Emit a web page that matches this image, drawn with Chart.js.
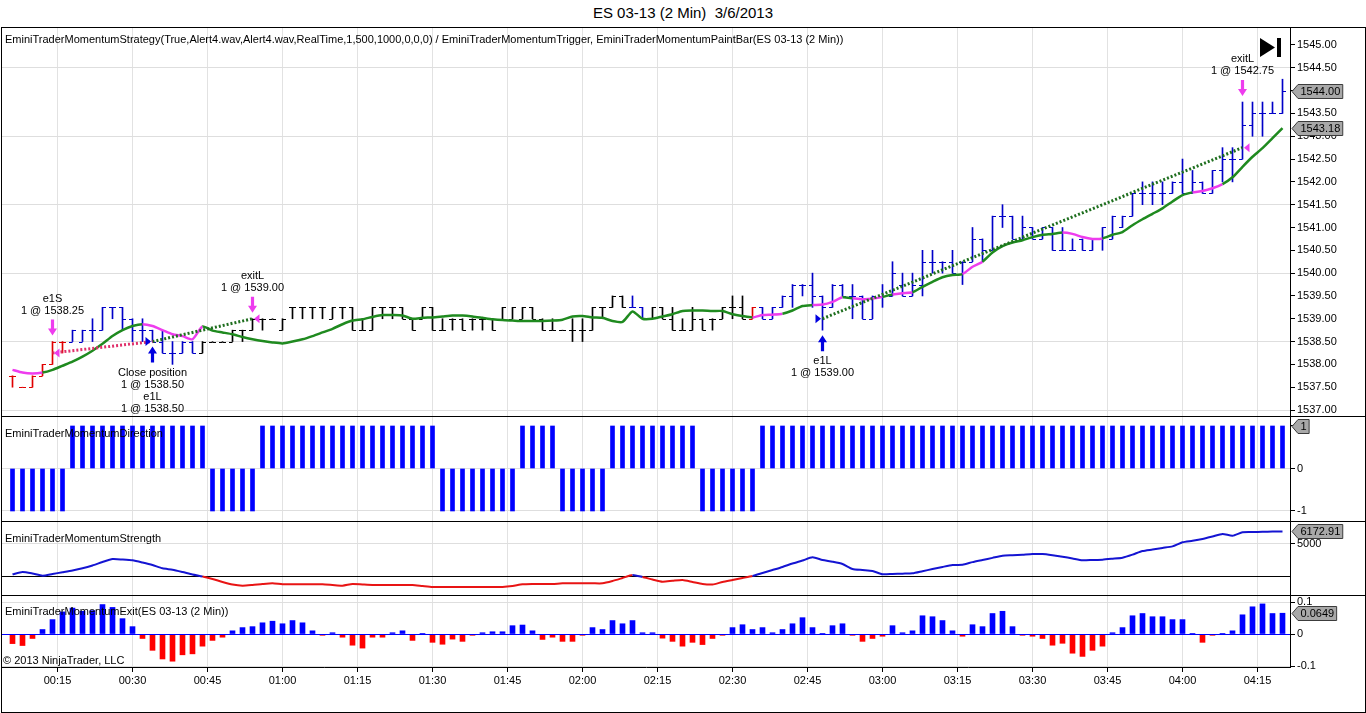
<!DOCTYPE html>
<html>
<head>
<meta charset="utf-8">
<script src="https://cdn.jsdelivr.net/npm/chart.js@4.4.1/dist/chart.umd.min.js"></script>
<style>
  body { margin: 0; background: #fff; font-family: "Liberation Sans", Arial, sans-serif; }
  #wrap { position: relative; width: 1366px; height: 713px; overflow: hidden; }
  canvas { position: absolute; left: 2px; }
  .t { position: absolute; font-size: 11px; line-height: 13px; white-space: nowrap; color: #000; }
  .ln { position: absolute; background: #000; }
</style>
</head>
<body>
<div id="wrap">
  <canvas id="cPrice" width="1363" height="389" style="top:27px"></canvas>
  <canvas id="cDir" width="1363" height="106" style="top:416px"></canvas>
  <canvas id="cStr" width="1363" height="74" style="top:522px"></canvas>
  <canvas id="cExit" width="1363" height="116" style="top:596px"></canvas>

  <div class="t" style="left:0;width:1366px;top:4px;text-align:center;font-size:15px;line-height:18px">ES 03-13 (2 Min)&nbsp; 3/6/2013</div>
  <div class="t" style="left:5px;top:33px">EminiTraderMomentumStrategy(True,Alert4.wav,Alert4.wav,RealTime,1,500,1000,0,0,0) / EminiTraderMomentumTrigger, EminiTraderMomentumPaintBar(ES 03-13 (2 Min))</div>
  <div class="t" style="left:5px;top:427px">EminiTraderMomentumDirection</div>
  <div class="t" style="left:5px;top:532px">EminiTraderMomentumStrength</div>
  <div class="t" style="left:5px;top:605px">EminiTraderMomentumExit(ES 03-13 (2 Min))</div>
  <div class="t" style="left:3px;top:654px">© 2013 NinjaTrader, LLC</div>

  <!-- frame and panel separators -->
  <div class="ln" style="left:1px;top:27px;width:1365px;height:1px"></div>
  <div class="ln" style="left:1px;top:27px;width:1px;height:686px"></div>
  <div class="ln" style="left:1365px;top:27px;width:1px;height:686px"></div>
  <div class="ln" style="left:1px;top:712px;width:1365px;height:1px"></div>
  <div class="ln" style="left:1px;top:416px;width:1365px;height:1px"></div>
  <div class="ln" style="left:1px;top:521px;width:1365px;height:1px"></div>
  <div class="ln" style="left:1px;top:595px;width:1365px;height:1px"></div>
</div>

<script>
// ---- data (2 min bars, 00:06 .. 04:20) ----
const firstBarMinute = 6;
const barMinutes = 2;
const timeLabels = ['00:15','00:30','00:45','01:00','01:15','01:30','01:45','02:00','02:15',
                    '02:30','02:45','03:00','03:15','03:30','03:45','04:00','04:15'];
const priceTicks = [1537, 1537.5, 1538, 1538.5, 1539, 1539.5, 1540, 1540.5, 1541,
                    1541.5, 1542, 1542.5, 1543, 1543.5, 1544, 1544.5, 1545];
const dirTicks = [-1, 0, 1];
const strengthTicks = [5000];
const exitTicks = [-0.1, 0, 0.1];
const strengthLevel = 2000;

const high = [
  1537.75,1537.50,1537.75,1538.00,1538.50,1538.50,1538.75,1538.75,1539.00,1539.25,
  1539.25,1539.25,1539.00,1539.00,1538.75,1538.75,1538.50,1538.50,1538.50,1538.50,
  1538.50,1538.50,1538.75,1538.75,1539.00,1539.00,1539.00,1539.00,1539.25,1539.25,
  1539.25,1539.25,1539.25,1539.25,1539.25,1539.00,1539.25,1539.25,1539.25,1539.25,
  1539.00,1539.25,1539.25,1539.00,1539.00,1539.00,1539.00,1539.00,1539.00,1539.25,
  1539.25,1539.25,1539.25,1539.00,1539.00,1538.75,1539.00,1539.00,1539.25,1539.25,
  1539.50,1539.50,1539.50,1539.25,1539.25,1539.25,1539.25,1539.00,1539.25,1539.00,
  1539.00,1539.25,1539.50,1539.50,1539.25,1539.25,1539.25,1539.50,1539.75,1539.75,
  1540.00,1539.50,1539.75,1539.75,1539.75,1539.50,1539.50,1539.75,1540.25,1540.00,
  1540.00,1540.50,1540.50,1540.25,1540.50,1540.25,1541.00,1540.75,1541.25,1541.50,
  1541.25,1541.25,1541.00,1541.00,1541.00,1541.00,1540.75,1540.75,1540.75,1541.00,
  1541.25,1541.25,1541.75,1542.00,1542.00,1542.00,1542.00,1542.50,1542.25,1542.00,
  1542.25,1542.75,1542.75,1543.75,1543.75,1543.75,1543.75,1544.25
];
const low = [
  1537.50,1537.50,1537.50,1537.75,1538.00,1538.25,1538.50,1538.50,1538.50,1538.75,
  1539.00,1538.75,1538.50,1538.50,1538.50,1538.25,1538.00,1538.25,1538.25,1538.25,
  1538.50,1538.50,1538.50,1538.50,1538.75,1538.75,1539.00,1538.75,1539.00,1539.00,
  1539.00,1539.00,1539.00,1539.00,1538.75,1538.75,1538.75,1539.00,1539.00,1539.00,
  1538.75,1539.00,1538.75,1538.75,1538.75,1538.75,1538.75,1538.75,1538.75,1539.00,
  1539.00,1539.00,1539.00,1538.75,1538.75,1538.75,1538.50,1538.50,1538.75,1539.00,
  1539.25,1539.25,1539.25,1539.00,1539.00,1539.00,1538.75,1538.75,1538.75,1538.75,
  1538.75,1539.00,1539.00,1539.00,1539.00,1539.00,1539.00,1539.25,1539.25,1539.50,
  1539.25,1538.75,1539.25,1539.50,1539.00,1539.00,1539.00,1539.25,1539.50,1539.50,
  1539.50,1539.50,1540.00,1540.00,1540.00,1539.75,1540.25,1540.25,1540.50,1541.00,
  1540.75,1540.75,1540.75,1540.75,1540.50,1540.50,1540.50,1540.50,1540.50,1540.50,
  1540.75,1541.00,1541.25,1541.50,1541.50,1541.50,1541.75,1541.75,1541.75,1541.75,
  1541.75,1542.00,1542.00,1542.50,1543.00,1543.00,1543.50,1543.50
];
const open = [
  1537.75,1537.50,1537.50,1537.75,1538.00,1538.50,1538.50,1538.50,1538.75,1538.75,
  1539.25,1539.25,1539.00,1538.75,1538.75,1538.50,1538.25,1538.25,1538.50,1538.25,
  1538.50,1538.50,1538.50,1538.75,1538.75,1539.00,1539.00,1538.75,1539.25,1539.25,
  1539.25,1539.25,1539.00,1539.25,1539.25,1538.75,1538.75,1539.25,1539.25,1539.25,
  1539.00,1539.00,1539.25,1538.75,1539.00,1539.00,1539.00,1539.00,1539.00,1539.00,
  1539.00,1539.00,1539.25,1539.00,1538.75,1538.75,1538.75,1538.75,1538.75,1539.25,
  1539.25,1539.50,1539.25,1539.25,1539.00,1539.25,1539.00,1538.75,1538.75,1539.00,
  1539.00,1539.00,1539.25,1539.25,1539.00,1539.25,1539.00,1539.25,1539.50,1539.75,
  1539.75,1539.50,1539.25,1539.75,1539.50,1539.50,1539.00,1539.50,1539.50,1539.75,
  1539.50,1539.75,1540.25,1540.25,1540.25,1540.25,1540.25,1540.75,1540.50,1541.25,
  1541.25,1540.75,1541.00,1540.75,1541.00,1540.50,1540.50,1540.75,1540.50,1540.75,
  1540.75,1541.00,1541.25,1541.75,1541.75,1541.75,1541.75,1542.00,1541.75,1542.00,
  1541.75,1542.25,1542.50,1542.50,1543.25,1543.50,1543.50,1543.50
];
const close = [
  1537.75,1537.50,1537.75,1538.00,1538.50,1538.50,1538.75,1538.75,1538.75,1539.25,
  1539.25,1539.00,1538.75,1538.75,1538.50,1538.25,1538.25,1538.50,1538.25,1538.50,
  1538.50,1538.50,1538.75,1538.75,1539.00,1539.00,1539.00,1539.00,1539.25,1539.25,
  1539.25,1539.25,1539.25,1539.25,1538.75,1538.75,1539.25,1539.25,1539.25,1539.00,
  1538.75,1539.25,1538.75,1538.75,1539.00,1538.75,1539.00,1539.00,1538.75,1539.25,
  1539.25,1539.25,1539.00,1538.75,1538.75,1538.75,1538.75,1538.75,1539.25,1539.25,
  1539.50,1539.25,1539.25,1539.00,1539.25,1539.00,1538.75,1538.75,1539.00,1538.75,
  1539.00,1539.25,1539.25,1539.00,1539.25,1539.00,1539.25,1539.50,1539.75,1539.75,
  1539.50,1539.25,1539.75,1539.50,1539.50,1539.00,1539.50,1539.50,1540.00,1539.50,
  1539.75,1540.25,1540.25,1540.25,1540.00,1540.25,1540.75,1540.50,1541.25,1541.25,
  1540.75,1541.00,1540.75,1541.00,1540.50,1540.50,1540.50,1540.50,1540.75,1541.00,
  1541.25,1541.25,1541.75,1541.75,1541.75,1541.75,1542.00,1541.75,1542.00,1541.75,
  1542.25,1542.50,1542.50,1543.25,1543.50,1543.50,1543.50,1544.00
];
// paint bar colour per bar: r = red, b = blue, k = black
const barColor = [
  'r','r','r','r','r','r','b','b','b','b', 'b','b','b','b','b','b','b','b','b','k',
  'k','k','k','k','k','k','k','k','k','k', 'k','k','k','k','k','k','k','k','k','k',
  'k','k','k','k','k','k','k','k','k','k', 'k','k','k','k','k','k','k','k','k','k',
  'k','k','b','b','k','k','k','k','k','k', 'k','k','k','k','r','b','b','b','b','b',
  'b','b','b','b','b','b','b','b','b','b', 'b','b','b','b','b','b','b','b','b','b',
  'b','b','b','b','b','b','b','b','b','b', 'b','b','b','b','b','b','b','b','b','b',
  'b','b','b','b','b','b','b','b'
];
const trigger = [
  1537.88,1537.82,1537.80,1537.82,1537.88,1537.97,1538.06,1538.17,1538.30,1538.45,
  1538.62,1538.75,1538.84,1538.88,1538.84,1538.75,1538.66,1538.62,1538.55,1538.83,
  1538.74,1538.70,1538.66,1538.60,1538.55,1538.51,1538.48,1538.46,1538.50,1538.55,
  1538.62,1538.70,1538.78,1538.88,1538.96,1538.99,1539.04,1539.08,1539.08,1539.07,
  1539.00,1539.02,1539.03,1539.05,1539.07,1539.07,1539.05,1539.02,1538.99,1538.97,
  1538.96,1538.95,1538.95,1538.95,1538.96,1538.98,1539.05,1539.06,1539.03,1539.02,
  1538.95,1538.93,1539.16,1539.00,1539.00,1539.05,1539.10,1539.17,1539.18,1539.18,
  1539.17,1539.17,1539.10,1539.06,1539.03,1539.08,1539.09,1539.11,1539.18,1539.28,
  1539.30,1539.31,1539.37,1539.47,1539.45,1539.43,1539.44,1539.48,1539.53,1539.56,
  1539.58,1539.70,1539.81,1539.91,1539.96,1539.98,1540.14,1540.25,1540.45,1540.59,
  1540.67,1540.72,1540.79,1540.84,1540.86,1540.89,1540.86,1540.79,1540.75,1540.76,
  1540.84,1540.90,1541.05,1541.18,1541.30,1541.42,1541.57,1541.71,1541.77,1541.80,
  1541.86,1541.95,1542.10,1542.33,1542.55,1542.74,1542.96,1543.18
];
// segments of the trigger line drawn in magenta (from bar a to bar b)
const triggerPink = [[0,3],[13,19],[74,77],[80,83],[84,87],[88,90],[95,97],[105,109],[118,121]];

const direction = [
  -1,-1,-1,-1,-1,-1, 1, 1, 1, 1,  1, 1, 1, 1, 1, 1, 1, 1, 1, 1,
  -1,-1,-1,-1,-1, 1, 1, 1, 1, 1,  1, 1, 1, 1, 1, 1, 1, 1, 1, 1,
   1, 1, 1,-1,-1,-1,-1,-1,-1,-1, -1, 1, 1, 1, 1,-1,-1,-1,-1,-1,
   1, 1, 1, 1, 1, 1, 1, 1, 1,-1, -1,-1,-1,-1,-1, 1, 1, 1, 1, 1,
   1, 1, 1, 1, 1, 1, 1, 1, 1, 1,  1, 1, 1, 1, 1, 1, 1, 1, 1, 1,
   1, 1, 1, 1, 1, 1, 1, 1, 1, 1,  1, 1, 1, 1, 1, 1, 1, 1, 1, 1,
   1, 1, 1, 1, 1, 1, 1, 1
];
const strength = [
  2160,2375,2235,2030,2190,2350,2515,2720,2985,3310,
  3590,3545,3470,3265,3030,2720,2590,2375,2140,1950,
  1720,1440,1200,1090,1155,1250,1315,1220,1220,1220,
  1220,1220,1155,1090,1250,1200,1155,1155,1155,1155,
  1155,1060,970,970,970,970,970,970,970,970,
  1060,1220,1250,1250,1250,1315,1315,1315,1315,1315,
  1530,1810,2095,1905,1670,1465,1550,1625,1440,1250,
  1200,1440,1625,1810,2000,2280,2560,2845,3170,3450,
  3750,3500,3340,3125,2655,2560,2470,2160,2190,2220,
  2250,2450,2650,2850,3030,3050,3300,3500,3700,3900,
  3950,4000,4060,4060,3950,3810,3640,3470,3500,3530,
  3620,3720,4000,4340,4480,4630,4780,5160,5300,5470,
  5700,5940,5780,6100,6120,6140,6160,6172.91
];
const exitValue = [
  -0.030,-0.036,-0.014,0.014,0.045,0.069,0.081,0.071,0.073,0.092,
  0.083,0.048,0.023,-0.014,-0.051,-0.078,-0.085,-0.065,-0.062,-0.038,
  -0.020,-0.010,0.010,0.020,0.023,0.035,0.040,0.032,0.042,0.035,
  0.010,-0.004,0.004,-0.010,-0.035,-0.044,-0.010,-0.010,0.004,0.010,
  -0.020,0.001,-0.026,-0.032,-0.016,-0.023,-0.004,0.004,0.007,0.007,
  0.026,0.028,0.010,-0.017,-0.010,-0.023,-0.023,-0.004,0.020,0.014,
  0.042,0.032,0.042,0.004,0.004,-0.013,-0.023,-0.038,-0.026,-0.033,
  -0.014,-0.004,0.020,0.029,0.014,0.020,0.004,0.014,0.032,0.051,
  0.020,0.001,0.026,0.032,-0.004,-0.023,-0.014,-0.007,0.026,0.004,
  0.010,0.057,0.054,0.042,0.010,-0.007,0.029,0.023,0.064,0.071,
  0.023,-0.004,-0.007,-0.014,-0.035,-0.029,-0.060,-0.070,-0.051,-0.038,
  0.004,0.020,0.057,0.064,0.054,0.054,0.045,0.045,0.001,-0.026,
  -0.004,0.001,0.010,0.060,0.085,0.094,0.064,0.0649
];

// executions of the strategy
const execBar   = [4, 14, 24, 81, 123];
const execPrice = [1538.25, 1538.50, 1539.00, 1539.00, 1542.75];
const execSide  = ['sell', 'buy', 'sell', 'buy', 'sell'];
const execText  = [
  ['e1S', '1 @ 1538.25'],
  ['Close position', '1 @ 1538.50', 'e1L', '1 @ 1538.50'],
  ['exitL', '1 @ 1539.00'],
  ['e1L', '1 @ 1539.00'],
  ['exitL', '1 @ 1542.75']
];
// trades: [entry execution, exit execution, side]
const trades = [[0, 1, 'short'], [1, 2, 'long'], [3, 4, 'long']];

// ---- styling ----
const FONT = '"Liberation Sans", Arial, sans-serif';
const COLORS = { r: '#e00000', b: '#0000c8', k: '#000000' };
const GREEN = '#1f8a1f', PINK = '#ee3cee';
const GRID = '#dedede';
const X_MIN = -1.05, X_MAX = 127.75;

Chart.defaults.font.family = FONT;
Chart.defaults.font.size = 11;
Chart.defaults.color = '#000';

function barOfTime(label) {
  const [h, m] = label.split(':').map(Number);
  return (h * 60 + m - firstBarMinute) / barMinutes;
}

function xAxis(showLabels) {
  return {
    type: 'linear', min: X_MIN, max: X_MAX, offset: false,
    afterBuildTicks: s => { s.ticks = timeLabels.map(t => ({ value: barOfTime(t) })); },
    grid: { color: '#e2e2e2', offset: false, drawTicks: showLabels, tickLength: 5, tickColor: '#000' },
    border: { display: showLabels, color: '#000' },
    ticks: { display: showLabels, autoSkip: false, maxRotation: 0, padding: 2,
             callback: (v, i) => timeLabels[i] },
    afterFit: s => { s.height = showLabels ? 45 : 0; s.paddingLeft = 0; s.paddingRight = 0; }
  };
}

function yAxis(min, max, ticks, fmt, gridOn) {
  return {
    position: 'right', min, max,
    afterBuildTicks: s => { s.ticks = ticks.map(v => ({ value: v })); },
    grid: { color: c => gridOn(c.tick.value) ? GRID : 'rgba(0,0,0,0)', tickLength: 5, tickColor: '#000' },
    border: { color: '#000' },
    ticks: { padding: 2, callback: fmt },
    afterFit: s => { s.width = 75; s.paddingTop = 0; s.paddingBottom = 0; }
  };
}

function options(yCfg, showTime) {
  return {
    responsive: false, animation: false, events: [],
    layout: { padding: 0 },
    plugins: { legend: { display: false }, tooltip: { enabled: false } },
    scales: { x: xAxis(showTime), y: yCfg }
  };
}

function drawTag(chart, value, text) {
  const { ctx, chartArea, scales: { y } } = chart;
  const yy = Math.round(y.getPixelForValue(value)) + 0.5;
  ctx.save();
  ctx.font = '11px ' + FONT;
  const w = ctx.measureText(text).width + 5;
  const x0 = chartArea.right + 2, xb = x0 + 6, h = 14;
  ctx.beginPath();
  ctx.moveTo(x0, yy);
  ctx.lineTo(xb, yy - h / 2); ctx.lineTo(xb + w, yy - h / 2);
  ctx.lineTo(xb + w, yy + h / 2); ctx.lineTo(xb, yy + h / 2);
  ctx.closePath();
  ctx.fillStyle = '#a8a8a8'; ctx.fill();
  ctx.strokeStyle = '#3c3c3c'; ctx.lineWidth = 1; ctx.stroke();
  ctx.fillStyle = '#000'; ctx.textBaseline = 'middle'; ctx.textAlign = 'left';
  ctx.fillText(text, xb + 2.5, yy + 0.5);
  ctx.restore();
}

function hLine(chart, value, color) {
  const { ctx, chartArea, scales: { y } } = chart;
  const yy = Math.round(y.getPixelForValue(value)) + 0.5;
  ctx.save();
  ctx.strokeStyle = color; ctx.lineWidth = 1;
  ctx.beginPath(); ctx.moveTo(chartArea.left, yy); ctx.lineTo(chartArea.right, yy); ctx.stroke();
  ctx.restore();
}

function arrow(ctx, x, tip, dir, color) {
  // dir = 1: pointing down (tip below), -1: pointing up
  const len = 16, head = 7, hw = 4.5, sw = 1.6;
  const s = dir;
  ctx.fillStyle = color;
  ctx.beginPath();
  ctx.moveTo(x, tip);
  ctx.lineTo(x - hw, tip - s * head); ctx.lineTo(x - sw, tip - s * head);
  ctx.lineTo(x - sw, tip - s * len); ctx.lineTo(x + sw, tip - s * len);
  ctx.lineTo(x + sw, tip - s * head); ctx.lineTo(x + hw, tip - s * head);
  ctx.closePath(); ctx.fill();
}

// open / close ticks of the OHLC bars
const ohlcTicks = {
  id: 'ohlcTicks',
  beforeDatasetsDraw(chart) {
    const { ctx, scales: { x, y } } = chart;
    ctx.save();
    ctx.lineWidth = 1;
    for (let i = 0; i < close.length; i++) {
      const px = x.getPixelForValue(i);
      const yo = Math.round(y.getPixelForValue(open[i])) + 0.5;
      const yc = Math.round(y.getPixelForValue(close[i])) + 0.5;
      ctx.strokeStyle = COLORS[barColor[i]];
      ctx.beginPath();
      ctx.moveTo(px - 3.5, yo); ctx.lineTo(px, yo);
      ctx.moveTo(px, yc); ctx.lineTo(px + 3.5, yc);
      ctx.stroke();
    }
    ctx.restore();
  }
};

// execution arrows, triangles and texts
const executions = {
  id: 'executions',
  afterDatasetsDraw(chart) {
    const { ctx, chartArea, scales: { x, y } } = chart;
    ctx.save();
    ctx.font = '11px ' + FONT;
    ctx.textAlign = 'center'; ctx.textBaseline = 'middle';
    execBar.forEach((b, k) => {
      const px = x.getPixelForValue(b);
      const py = y.getPixelForValue(execPrice[k]);
      const lines = execText[k];
      if (execSide[k] === 'sell') {
        const tip = y.getPixelForValue(high[b]) - 6;
        arrow(ctx, px, tip, 1, PINK);
        ctx.fillStyle = PINK;
        ctx.beginPath(); ctx.moveTo(px + 1.5, py); ctx.lineTo(px + 7, py - 4.5); ctx.lineTo(px + 7, py + 4.5); ctx.closePath(); ctx.fill();
        ctx.fillStyle = '#000';
        lines.forEach((t, j) => ctx.fillText(t, px, tip - 16 - 9 - (lines.length - 1 - j) * 12));
      } else {
        const tip = y.getPixelForValue(low[b]) + 5;
        arrow(ctx, px, tip, -1, '#0000e0');
        ctx.fillStyle = '#0000e0';
        ctx.beginPath(); ctx.moveTo(px - 1.5, py); ctx.lineTo(px - 7, py - 4.5); ctx.lineTo(px - 7, py + 4.5); ctx.closePath(); ctx.fill();
        ctx.fillStyle = '#000';
        lines.forEach((t, j) => ctx.fillText(t, px, tip + 16 + 10 + j * 12));
      }
    });
    // "go to last bar" button
    const r = chartArea.right, t = chartArea.top;
    ctx.fillStyle = '#000';
    ctx.beginPath(); ctx.moveTo(r - 30, t + 11); ctx.lineTo(r - 15, t + 20.5); ctx.lineTo(r - 30, t + 30); ctx.closePath(); ctx.fill();
    ctx.fillRect(r - 13, t + 11, 4, 19);
    ctx.restore();
    drawTag(chart, close[close.length - 1], close[close.length - 1].toFixed(2));
    drawTag(chart, trigger[trigger.length - 1], trigger[trigger.length - 1].toFixed(2));
  }
};

// ---- price panel ----
const tradeDatasets = trades.map(([a, b, side]) => ({
  type: 'line', order: 1,
  data: [{ x: execBar[a], y: execPrice[a] }, { x: execBar[b], y: execPrice[b] }],
  borderColor: side === 'short' ? '#e0306a' : '#1e6e1e',
  borderWidth: 3, borderDash: [2, 2], pointRadius: 0, fill: false
}));

new Chart(document.getElementById('cPrice'), {
  type: 'bar',
  data: {
    datasets: [
      { type: 'bar', order: 3,
        data: high.map((h, i) => ({ x: i, y: [low[i], h] })),
        backgroundColor: barColor.map(c => COLORS[c]),
        barThickness: 1, borderWidth: 0 },
      { type: 'line', order: 2,
        data: trigger.map((v, i) => ({ x: i, y: v })),
        borderWidth: 2.5, pointRadius: 0, tension: 0.2, fill: false, borderColor: GREEN,
        segment: { borderColor: c => triggerPink.some(([a, b]) => c.p0DataIndex >= a && c.p0DataIndex < b) ? PINK : GREEN } },
      ...tradeDatasets
    ]
  },
  options: options(
    yAxis(1536.8685, 1545.3945, priceTicks, v => v.toFixed(2),
          v => Math.abs(((v - 1537) / 1.5) - Math.round((v - 1537) / 1.5)) < 1e-6),
    false),
  plugins: [ohlcTicks, executions]
});

// ---- direction panel ----
new Chart(document.getElementById('cDir'), {
  type: 'bar',
  data: { datasets: [{
    data: direction.map((v, i) => ({ x: i, y: v })),
    backgroundColor: '#0000ff', barThickness: 4, borderWidth: 0
  }] },
  options: options(yAxis(-1.259, 1.235, dirTicks, v => String(v), v => v <= 0), false),
  plugins: [{ id: 'dirTag', afterDraw: c => drawTag(c, direction[direction.length - 1], String(direction[direction.length - 1])) }]
});

// ---- strength panel ----
new Chart(document.getElementById('cStr'), {
  type: 'line',
  data: { datasets: [{
    data: strength.map((v, i) => ({ x: i, y: v })),
    borderWidth: 2, pointRadius: 0, tension: 0.2, fill: false, borderColor: '#1414d2',
    segment: { borderColor: c => (c.p0.parsed.y + c.p1.parsed.y) / 2 >= strengthLevel ? '#1414d2' : '#e81414' }
  }] },
  options: options(yAxis(125, 7062, strengthTicks, v => String(v), () => true), false),
  plugins: [{
    id: 'strLevel',
    beforeDatasetsDraw: c => hLine(c, strengthLevel, '#000'),
    afterDraw: c => drawTag(c, strength[strength.length - 1], strength[strength.length - 1].toFixed(2))
  }]
});

// ---- exit panel ----
new Chart(document.getElementById('cExit'), {
  type: 'bar',
  data: { datasets: [{
    data: exitValue.map((v, i) => ({ x: i, y: v })),
    backgroundColor: exitValue.map(v => v >= 0 ? '#0000ff' : '#ff0000'),
    barThickness: 5, borderWidth: 0
  }] },
  options: options(yAxis(-0.1031, 0.11875, exitTicks, v => v === 0 ? '0' : v.toFixed(1), () => true), true),
  plugins: [{
    id: 'exitZero',
    afterDatasetsDraw: c => hLine(c, 0, '#0000ff'),
    afterDraw: c => drawTag(c, exitValue[exitValue.length - 1], exitValue[exitValue.length - 1].toFixed(4))
  }]
});
</script>
</body>
</html>
